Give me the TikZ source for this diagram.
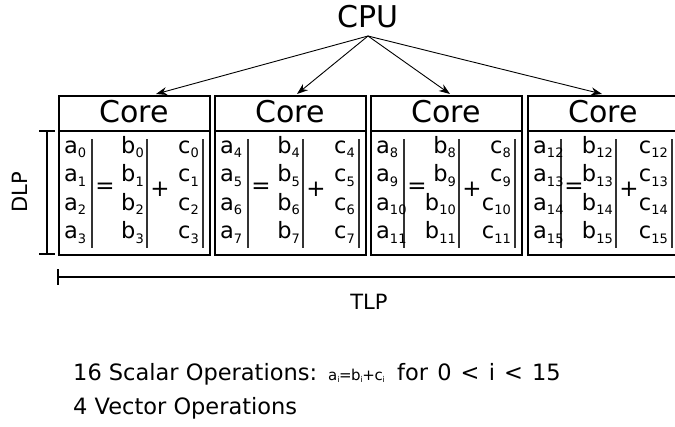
\documentclass[tikz,border=0pt]{standalone}
\usepackage{fontspec}
\setmainfont{DejaVu Sans}
\usetikzlibrary{arrows.meta,calc}

% lowered subscript for the vector elements
\newcommand\ix[1]{\raisebox{-4.5pt}{\fontsize{13}{13}\selectfont #1}}
% small subscript for the scalar formula
\newcommand\ixs[1]{\raisebox{-2.5pt}{\fontsize{8}{8}\selectfont #1}}

\begin{document}
\begin{tikzpicture}[x=1pt,y=-1pt,
  corebox/.style={draw, line width=1.8pt, minimum width=151pt, minimum height=159pt,
                  inner sep=0pt, anchor=north west},
  coretitle/.style={font=\fontsize{30}{30}\selectfont, inner sep=0pt},
  elem/.style={font=\fontsize{22.5}{22.5}\selectfont, inner sep=0pt},
  oper/.style={font=\fontsize{23}{23}\selectfont, inner sep=0pt},
  bar/.style={line width=1.3pt, draw=black!80},
  fork/.style={line width=0.9pt, -{Stealth[length=11pt,width=8pt]}},
  bracket/.style={line width=1.2pt},
  label/.style={font=\fontsize{21}{21}\selectfont, inner sep=0pt},
  note/.style={font=\fontsize{22.5}{22.5}\selectfont, inner sep=0pt, anchor=base west}
]
\useasboundingbox (0,0) rectangle (675,426);
\clip (0,0) rectangle (675,426);

% processor and its four cores
\node[font=\fontsize{30}{30}\selectfont, inner sep=0pt] (cpu) at (368,17) {CPU};
\coordinate (hub) at (368,36);

\foreach \i/\x/\t in {0/58/98,1/214/83,2/370/80,3/527/75} {
  \node[corebox] (core\i) at (\x,95) {};
  \coordinate (tip\i) at ($(core\i.north west)+(\t,-1)$);
  \node[coretitle] (title\i) at ($(core\i.north)+(0,17)$) {Core};
  \draw[line width=1.8pt] ($(core\i.north west)+(0,36)$) -- ($(core\i.north east)+(0,36)$);
  % column separators
  \foreach \c in {34,89,145}
    \draw[bar] ($(core\i.north west)+(\c,44)$) -- ($(core\i.north west)+(\c,153)$);
  % a = b + c, four lanes per core
  \foreach \r in {0,...,3} {
    \pgfmathtruncatemacro\k{4*\i+\r}
    \pgfmathsetmacro\yy{58+28.5*\r}
    \node[elem, anchor=base west] (a\k) at ($(core\i.north west)+(6,\yy)$) {a\ix{\k}};
    \node[elem, anchor=base east] (b\k) at ($(core\i.north west)+(86,\yy)$) {b\ix{\k}};
    \node[elem, anchor=base east] (c\k) at ($(core\i.north west)+(141,\yy)$) {c\ix{\k}};
  }
  \node[oper] (eq\i) at ($(core\i.north west)+(47,93)$) {=};
  \node[oper] (plus\i) at ($(core\i.north west)+(102,94)$) {+};
}

\foreach \i in {0,...,3}
  \draw[fork] (hub) -- (tip\i);

% data-level parallelism bracket
\coordinate (dtop) at (47,131);
\coordinate (dbot) at (47,254);
\draw[bracket] (dtop) -- (dbot);
\draw[bracket] ($(dtop)+(-8,0)$) -- ($(dtop)+(8,0)$);
\draw[bracket] ($(dbot)+(-8,0)$) -- ($(dbot)+(8,0)$);
\node[label, rotate=90] (dlp) at (20,192) {DLP};

% thread-level parallelism bracket
\coordinate (tleft) at (58,277);
\coordinate (tright) at (700,277);
\draw[bracket] (tleft) -- (tright);
\draw[bracket] ($(tleft)+(0,-8)$) -- ($(tleft)+(0,8)$);
\node[label] (tlp) at (369,302) {TLP};

% operation counts
\node[note] (scalar) at (73,380) {16 Scalar Operations:};
\node[font=\fontsize{15}{15}\selectfont, inner sep=0pt, anchor=base west] (formula) at (328,380)
  {a\ixs{i}\kern-0.5pt=\kern-0.5pt b\ixs{i}\kern-0.5pt+\kern-0.5pt c\ixs{i}};
\node[note] (range) at (397,380)
  {for\hspace{2pt} 0\hspace{2pt} <\hspace{2pt} i\hspace{2pt} <\hspace{2pt} 15};
\node[note] (vector) at (73,414) {4 Vector Operations};
\end{tikzpicture}
\end{document}
